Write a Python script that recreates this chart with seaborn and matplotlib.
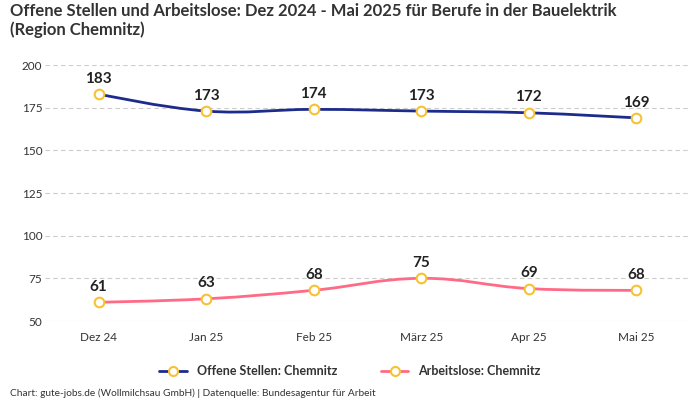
import matplotlib
matplotlib.use("Agg")
import matplotlib.pyplot as plt
import seaborn as sns
import pandas as pd
import numpy as np
from matplotlib.path import Path
from matplotlib.patches import PathPatch
from matplotlib.lines import Line2D

months = ["Dez 24", "Jan 25", "Feb 25", "März 25", "Apr 25", "Mai 25"]
offene = [183, 173, 174, 173, 172, 169]
arbeitslose = [61, 63, 68, 75, 69, 68]
series_names = ["Offene Stellen: Chemnitz", "Arbeitslose: Chemnitz"]
colors = ["#1c2b8c", "#ff6b86"]
yticks = [50, 75, 100, 125, 150, 175, 200]

sns.set_theme(style="white")
plt.rcParams['font.family'] = ['Lato', 'DejaVu Sans']

df = pd.DataFrame({
    "Monat": months * 2,
    "x": list(range(len(months))) * 2,
    "Wert": offene + arbeitslose,
    "Serie": [series_names[0]] * len(months) + [series_names[1]] * len(months),
})

fig = plt.figure(figsize=(7, 4), dpi=100)
ax = fig.add_axes([45 / 700, 1 - 321 / 400, 645 / 700, 256 / 400])


def smooth_path(xs, ys, smoothing=1.5):
    # cubic Bezier through the data points (spline-like)
    verts = [(xs[0], ys[0])]
    codes = [Path.MOVETO]
    n = len(xs)
    for i in range(n - 1):
        x0, y0 = xs[i], ys[i]
        x1, y1 = xs[i + 1], ys[i + 1]
        if i == 0:
            c1 = (x0, y0)
        else:
            xp, yp = xs[i - 1], ys[i - 1]
            lx = (smoothing * x0 + xp) / (smoothing + 1)
            ly = (smoothing * y0 + yp) / (smoothing + 1)
            rx = (smoothing * x0 + x1) / (smoothing + 1)
            ry = (smoothing * y0 + y1) / (smoothing + 1)
            corr = y0 - (ly + (ry - ly) * (x0 - lx) / (rx - lx))
            c1 = (rx, ry + corr)
        if i + 1 == n - 1:
            c2 = (x1, y1)
        else:
            xn, yn = xs[i + 2], ys[i + 2]
            lx = (smoothing * x1 + x0) / (smoothing + 1)
            ly = (smoothing * y1 + y0) / (smoothing + 1)
            rx = (smoothing * x1 + xn) / (smoothing + 1)
            ry = (smoothing * y1 + yn) / (smoothing + 1)
            corr = y1 - (ly + (ry - ly) * (x1 - lx) / (rx - lx))
            c2 = (lx, ly + corr)
        verts += [c1, c2, (x1, y1)]
        codes += [Path.CURVE4] * 3
    return Path(verts, codes)


for name, vals, col in zip(series_names, [offene, arbeitslose], colors):
    xs = list(range(len(months)))
    p = smooth_path(xs, vals)
    ax.add_patch(PathPatch(p, facecolor="none", edgecolor=col, lw=2, zorder=2))

sns.scatterplot(data=df, x="x", y="Wert", ax=ax, s=48, facecolor="white",
                edgecolor="#f7c232", linewidth=1.5, zorder=3, legend=False)

for vals in [offene, arbeitslose]:
    for i, v in enumerate(vals):
        ax.annotate(str(v), (i, v), xytext=(0, 6), textcoords="offset points",
                    ha="center", va="bottom", fontsize=11, fontweight="bold",
                    color="#222222")

ax.set_xlim(-0.5, len(months) - 0.5)
ax.set_ylim(50, 200)
ax.set_yticks(yticks)
ax.set_xticks(range(len(months)))
ax.set_xticklabels(months)
ax.tick_params(axis="both", length=0, labelsize=8.5, colors="#333333")
ax.tick_params(axis="x", pad=8)
ax.tick_params(axis="y", pad=2)
ax.set_xlabel("")
ax.set_ylabel("")
for s in ax.spines.values():
    s.set_visible(False)
ax.yaxis.grid(True, linestyle=(0, (4, 3)), color="#cccccc", lw=0.8)
ax.set_axisbelow(True)

fig.text(10 / 700, 1 - 3 / 400,
         "Offene Stellen und Arbeitslose: Dez 2024 - Mai 2025 für Berufe in der Bauelektrik\n(Region Chemnitz)",
         ha="left", va="top", fontsize=12, fontweight="bold", color="#333333",
         linespacing=1.15)

handles = [Line2D([0], [0], color=c, lw=2, marker="o", markersize=6.5,
                  markerfacecolor="white", markeredgecolor="#f7c232",
                  markeredgewidth=1.5) for c in colors]
fig.legend(handles, series_names, loc="center", bbox_to_anchor=(0.5, 1 - 371 / 400),
           ncol=2, frameon=False, handlelength=2.2, columnspacing=3.5,
           prop={"weight": "bold", "size": 9})
for t in fig.legends[0].get_texts():
    t.set_color("#333333")

fig.text(10 / 700, 1 - 393 / 400,
         "Chart: gute-jobs.de (Wollmilchsau GmbH) | Datenquelle: Bundesagentur für Arbeit",
         ha="left", va="center", fontsize=7.3, color="#333333")

fig.savefig("out.png", dpi=100)
